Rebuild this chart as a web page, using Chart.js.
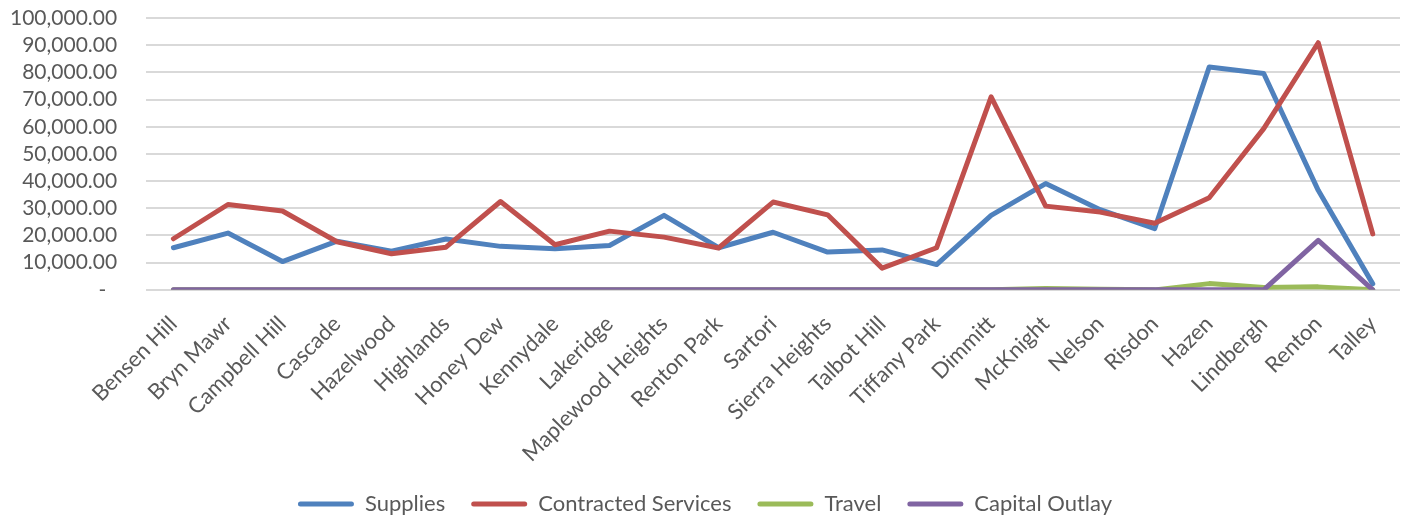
<!DOCTYPE html>
<html>
<head>
<meta charset="utf-8">
<script src="https://cdn.jsdelivr.net/npm/chart.js@4/dist/chart.umd.min.js"></script>
<style>
  html, body { margin: 0; padding: 0; background: #fff; }
  #wrap { width: 1405px; height: 516px; position: relative; }
</style>
</head>
<body>
<div id="wrap"><canvas id="chart"></canvas></div>
<script>
// Schools / sites along the x axis
const categories = [
  "Bensen Hill", "Bryn Mawr", "Campbell Hill", "Cascade", "Hazelwood", "Highlands",
  "Honey Dew", "Kennydale", "Lakeridge", "Maplewood Heights", "Renton Park", "Sartori",
  "Sierra Heights", "Talbot Hill", "Tiffany Park", "Dimmitt", "McKnight", "Nelson",
  "Risdon", "Hazen", "Lindbergh", "Renton", "Talley"
];

// Spending by category
const supplies = [15500, 20900, 10400, 17900, 14200, 18700, 16000, 15100, 16300, 27400, 15500, 21200,
                  13900, 14700, 9300, 27400, 39100, 29500, 22500, 82000, 79600, 36600, 2200];
const contractedServices = [18800, 31400, 29000, 17700, 13300, 15700, 32500, 16600, 21600, 19400, 15400, 32300,
                            27600, 8000, 15500, 71000, 30800, 28600, 24500, 33900, 59300, 90900, 20600];
const travel = [0, 0, 0, 0, 0, 0, 0, 0, 0, 0, 0, 0,
                0, 0, 0, 0, 500, 200, 0, 2300, 900, 1100, 0];
const capitalOutlay = [0, 0, 0, 0, 0, 0, 0, 0, 0, 0, 0, 0,
                       0, 0, 0, 0, 0, 0, 0, 0, 0, 18200, 0];

const yMin = 0, yMax = 100000, yStep = 10000;

const FONT = "Lato, 'Open Sans', sans-serif";
const TEXT = "#595959";
const CLEAR = "rgba(0,0,0,0)";

function series(label, data, color, order) {
  return {
    label, data, order,
    borderColor: color, backgroundColor: color,
    borderWidth: 5, pointRadius: 0, pointHoverRadius: 0,
    tension: 0, borderJoinStyle: "round", borderCapStyle: "round", fill: false
  };
}

// Accounting-style number: zero shows as a dash
function money(v) {
  if (v === 0) return "-  ";
  return v.toLocaleString("en-US", { minimumFractionDigits: 2, maximumFractionDigits: 2 });
}

new Chart(document.getElementById("chart"), {
  type: "line",
  data: {
    labels: categories,
    datasets: [
      series("Supplies", supplies, "#4F81BD", 4),
      series("Contracted Services", contractedServices, "#C0504D", 3),
      series("Travel", travel, "#9BBB59", 2),
      series("Capital Outlay", capitalOutlay, "#8064A2", 1)
    ]
  },
  options: {
    responsive: true,
    maintainAspectRatio: false,
    animation: false,
    layout: { padding: { left: 10, right: 5, top: 18, bottom: -9 } },
    plugins: {
      tooltip: { enabled: false },
      legend: {
        position: "bottom",
        labels: {
          font: { family: FONT, size: 22 },
          color: TEXT,
          boxWidth: 56,
          boxHeight: 5,
          padding: 26,
          useBorderRadius: true,
          borderRadius: 2.5,
          sort: (a, b) => a.datasetIndex - b.datasetIndex,
          generateLabels: (chart) =>
            Chart.defaults.plugins.legend.labels.generateLabels(chart).map(item => ({
              ...item, fillStyle: item.strokeStyle, lineWidth: 0
            }))
        }
      }
    },
    scales: {
      x: {
        offset: true,
        grid: { display: true, drawOnChartArea: false, drawTicks: true, tickLength: 21, tickColor: CLEAR, color: CLEAR },
        border: { display: false },
        ticks: {
          autoSkip: false, maxRotation: 45, minRotation: 45,
          font: { family: FONT, size: 22 }, color: TEXT, padding: 0
        }
      },
      y: {
        min: yMin, max: yMax,
        grid: { color: "#D9D9D9", lineWidth: 2, drawTicks: true, tickLength: 29, tickColor: CLEAR },
        border: { display: false },
        ticks: {
          stepSize: yStep, autoSkip: false,
          font: { family: FONT, size: 21 }, color: TEXT, padding: 0,
          callback: (v) => money(v)
        }
      }
    }
  }
});
</script>
</body>
</html>
